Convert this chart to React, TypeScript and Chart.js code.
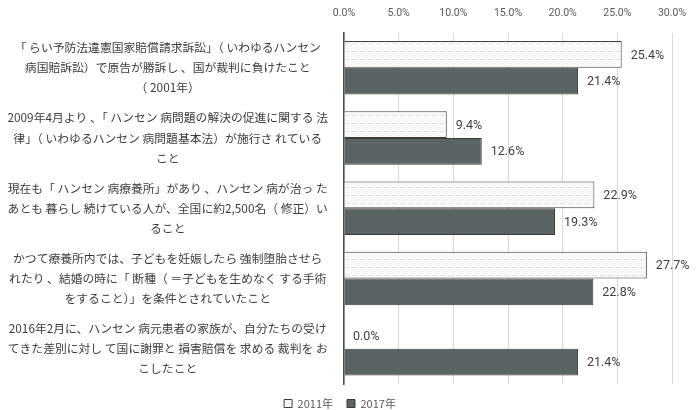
import React, { useEffect, useRef } from "react";
import { Chart, registerables } from "chart.js";

Chart.register(...registerables);

const categories: string[][] = [
  ["「 らい予防法違憲国家賠償請求訴訟」（ いわゆるハンセン", "病国賠訴訟）で原告が勝訴し 、国が裁判に負けたこと", "（ 2001年）"],
  ["2009年4月より 、「 ハンセン 病問題の解決の促進に関する 法", "律」（ いわゆるハンセン 病問題基本法）が施行さ れている", "こと"],
  ["現在も「 ハンセン 病療養所」があり 、ハンセン 病が治っ た", "あとも 暮らし 続けている人が、全国に約2,500名（ 修正）い", "ること"],
  ["かつて療養所内では、子どもを妊娠したら 強制堕胎させら", "れたり 、結婚の時に「 断種（ ＝子どもを生めなく する手術", "をすること）」を条件とされていたこと"],
  ["2016年2月に、ハンセン 病元患者の家族が、自分たちの受け", "てきた差別に対し て国に謝罪と 損害賠償を 求める 裁判を お", "こしたこと"],
];

const seriesNames = ["2011年", "2017年"];
const values2011 = [25.4, 9.4, 22.9, 27.7, 0.0];
const values2017 = [21.4, 12.6, 19.3, 22.8, 21.4];
const xTicks = [0, 5, 10, 15, 20, 25, 30];

function makePattern(): CanvasPattern | string {
  const c = document.createElement("canvas");
  c.width = 8;
  c.height = 8;
  const ctx = c.getContext("2d");
  if (!ctx) return "#f7f7f7";
  ctx.fillStyle = "#f9f9f9";
  ctx.fillRect(0, 0, 8, 8);
  ctx.fillStyle = "#e4e4e4";
  ctx.fillRect(0, 3, 5, 1);
  return ctx.createPattern(c, "repeat") || "#f7f7f7";
}

const valueLabels = {
  id: "valueLabels",
  afterDatasetsDraw(chart: any) {
    const ctx = chart.ctx;
    ctx.save();
    ctx.font = '12.5px Roboto, "Noto Sans", sans-serif';
    ctx.fillStyle = "#404040";
    ctx.textBaseline = "middle";
    ctx.textAlign = "left";
    chart.data.datasets.forEach((ds: any, i: number) => {
      const meta = chart.getDatasetMeta(i);
      meta.data.forEach((bar: any, j: number) => {
        const v = ds.data[j] as number;
        ctx.fillText(v.toFixed(1) + "%", bar.x + 9, bar.y + 1);
      });
    });
    ctx.restore();
  },
};

export default function App() {
  const ref = useRef<HTMLCanvasElement | null>(null);

  useEffect(() => {
    if (!ref.current) return;
    const chart = new Chart(ref.current, {
      type: "bar",
      data: {
        labels: categories,
        datasets: [
          {
            label: seriesNames[0],
            data: values2011,
            backgroundColor: makePattern() as any,
            borderColor: "#3f3f3f",
            borderWidth: 1,
            categoryPercentage: 0.76,
            barPercentage: 1,
          },
          {
            label: seriesNames[1],
            data: values2017,
            backgroundColor: "#5a6464",
            borderColor: "#3a3a3a",
            borderWidth: 1,
            categoryPercentage: 0.76,
            barPercentage: 1,
          },
        ],
      },
      options: {
        indexAxis: "y",
        responsive: false,
        animation: false,
        layout: { padding: { left: 8, right: 24, top: -6, bottom: -9 } },
        plugins: {
          tooltip: { enabled: false },
          legend: {
            position: "bottom",
            labels: {
              boxWidth: 8,
              boxHeight: 8,
              padding: 14,
              color: "#595959",
              font: { size: 11, family: '"Noto Sans CJK JP", Roboto, sans-serif' },
            },
          },
        },
        scales: {
          x: {
            position: "top",
            min: 0,
            max: 30,
            afterBuildTicks: (scale: any) => {
              scale.ticks = xTicks.map((v) => ({ value: v }));
            },
            afterFit: (scale: any) => {
              scale.paddingRight = 0;
              scale.paddingLeft = 0;
            },
            ticks: {
              callback: (v: any) => Number(v).toFixed(1) + "%",
              color: "#595959",
              font: { size: 10.5, family: 'Roboto, "Noto Sans", sans-serif' },
              padding: 13,
            },
            grid: { color: "#d9d9d9", drawTicks: false },
            border: { display: false },
          },
          y: {
            grid: { display: false, drawTicks: false },
            border: { color: "#4a4a4a", width: 1.5 },
            afterFit: (scale: any) => {
              scale.width = 336;
              scale.paddingTop = 0;
              scale.paddingBottom = 0;
            },
            ticks: {
              crossAlign: "center",
              color: "#3c3c3c",
              padding: 16,
              font: { size: 11.8, family: '"Noto Sans CJK JP", sans-serif', lineHeight: 1.7 },
            },
          },
        },
      },
      plugins: [valueLabels],
    });
    return () => chart.destroy();
  }, []);

  return (
    <div style={{ position: "fixed", left: 0, top: 0, width: 696, height: 410, background: "#fff" }}>
      <canvas ref={ref} width={696} height={410} />
    </div>
  );
}
